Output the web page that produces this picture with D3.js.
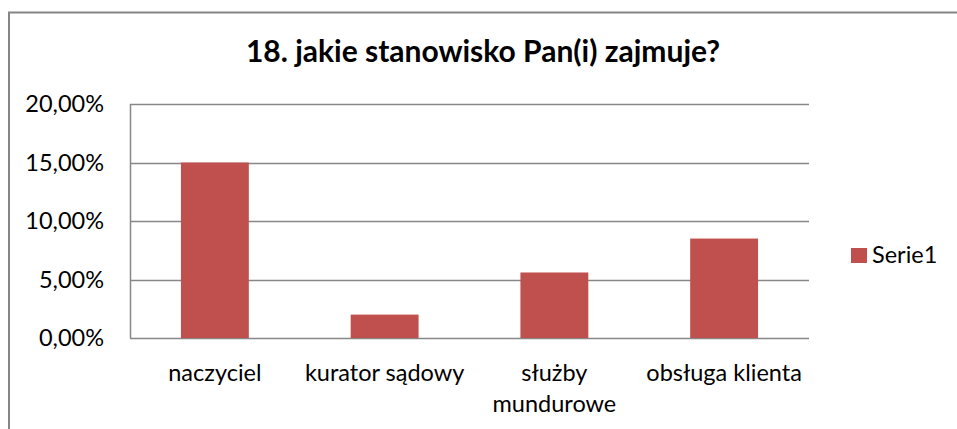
<!DOCTYPE html>
<html>
<head>
<meta charset="utf-8">
<script src="https://cdn.jsdelivr.net/npm/d3@7"></script>
<style>
  body { margin: 0; background: #fff; }
  text { font-family: Lato, "Open Sans", sans-serif; fill: #000; }
</style>
</head>
<body>
<svg id="chart" width="957" height="429"></svg>
<script>
// data
const categories = ['naczyciel', 'kurator sądowy', 'służby mundurowe', 'obsługa klienta'];
const values = [0.15, 0.02, 0.056, 0.085];
const yTicks = [0, 0.05, 0.10, 0.15, 0.20];
const seriesName = 'Serie1';
const title = '18. jakie stanowisko Pan(i) zajmuje?';

const svg = d3.select('#chart');
const plot = { left: 130, top: 104, right: 809, bottom: 338 };
const barColor = '#c0504d';
const gridColor = '#878787';
const fontSize = 23.5;

// outer chart border (left and top visible, rest cut off)
svg.append('path')
  .attr('d', `M9,429 V12.5 H957`)
  .attr('fill', 'none')
  .attr('stroke', '#868686')
  .attr('stroke-width', 2);

const x = d3.scaleBand()
  .domain(categories)
  .range([plot.left, plot.right])
  .paddingInner(0.6)
  .paddingOuter(0.3);

const y = d3.scaleLinear()
  .domain([0, 0.20])
  .range([plot.bottom, plot.top]);

const fmt = d => d3.format('.2f')(d * 100).replace('.', ',') + '%';

// gridlines
svg.append('g').selectAll('line')
  .data(yTicks)
  .enter().append('line')
  .attr('x1', plot.left).attr('x2', plot.right)
  .attr('y1', d => Math.round(y(d)) + 0.5).attr('y2', d => Math.round(y(d)) + 0.5)
  .attr('stroke', gridColor)
  .attr('stroke-width', 1.5);

// vertical axis line
svg.append('line')
  .attr('x1', plot.left + 0.5).attr('x2', plot.left + 0.5)
  .attr('y1', plot.top).attr('y2', plot.bottom)
  .attr('stroke', gridColor)
  .attr('stroke-width', 1.5);

// y tick labels
svg.append('g').selectAll('text')
  .data(yTicks)
  .enter().append('text')
  .attr('x', 104)
  .attr('y', d => y(d))
  .attr('dy', '0.35em')
  .attr('text-anchor', 'end')
  .attr('font-size', fontSize)
  .text(fmt);

// bars
svg.append('g').selectAll('rect')
  .data(values)
  .enter().append('rect')
  .attr('x', (d, i) => x(categories[i]))
  .attr('y', d => y(d))
  .attr('width', x.bandwidth())
  .attr('height', d => plot.bottom - y(d))
  .attr('fill', barColor);

// category labels, wrapped like excel does
const wrapLines = { 'służby mundurowe': ['służby', 'mundurowe'] };
const labels = svg.append('g').selectAll('text')
  .data(categories)
  .enter().append('text')
  .attr('x', d => x(d) + x.bandwidth() / 2)
  .attr('y', 381)
  .attr('text-anchor', 'middle')
  .attr('font-size', fontSize);
labels.each(function(d) {
  const lines = wrapLines[d] || [d];
  lines.forEach((l, i) => {
    d3.select(this).append('tspan')
      .attr('x', x(d) + x.bandwidth() / 2)
      .attr('dy', i === 0 ? 0 : 31)
      .text(l);
  });
});

// title
svg.append('text')
  .attr('x', 483)
  .attr('y', 62)
  .attr('text-anchor', 'middle')
  .attr('font-size', 30)
  .attr('font-weight', 'bold')
  .text(title);

// legend
svg.append('rect')
  .attr('x', 851).attr('y', 248)
  .attr('width', 16).attr('height', 15)
  .attr('fill', barColor);
svg.append('text')
  .attr('x', 872).attr('y', 263)
  .attr('font-size', fontSize)
  .text(seriesName);
</script>
</body>
</html>
